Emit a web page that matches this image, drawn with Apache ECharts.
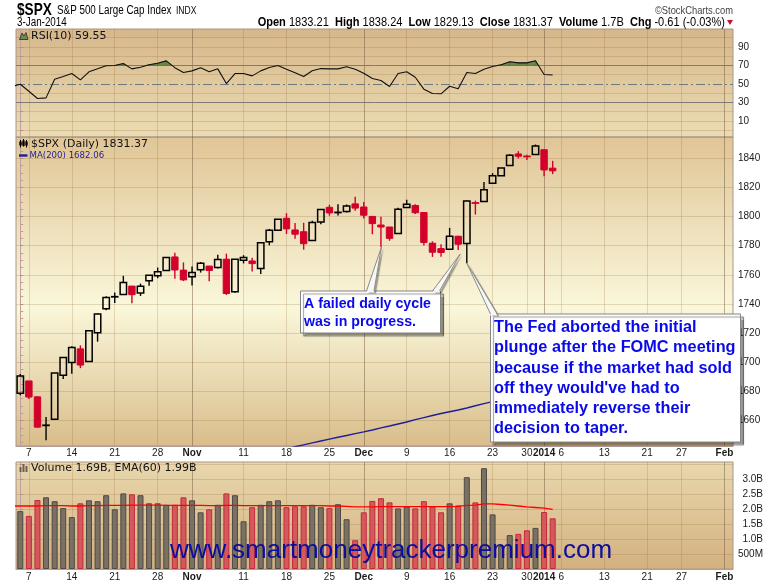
<!DOCTYPE html>
<html><head><meta charset="utf-8">
<script src="https://cdn.jsdelivr.net/npm/echarts@6/dist/echarts.min.js"></script>
<style>html,body{margin:0;padding:0;background:#fff}#c{width:780px;height:586px}</style>
</head><body><div id="c"></div>
<script>
// ---------- data ----------
const dates = ['2013-10-04','2013-10-07','2013-10-08','2013-10-09','2013-10-10','2013-10-11','2013-10-14','2013-10-15','2013-10-16','2013-10-17','2013-10-18','2013-10-21','2013-10-22','2013-10-23','2013-10-24','2013-10-25','2013-10-28','2013-10-29','2013-10-30','2013-10-31','2013-11-01','2013-11-04','2013-11-05','2013-11-06','2013-11-07','2013-11-08','2013-11-11','2013-11-12','2013-11-13','2013-11-14','2013-11-15','2013-11-18','2013-11-19','2013-11-20','2013-11-21','2013-11-22','2013-11-25','2013-11-26','2013-11-27','2013-11-29','2013-12-02','2013-12-03','2013-12-04','2013-12-05','2013-12-06','2013-12-09','2013-12-10','2013-12-11','2013-12-12','2013-12-13','2013-12-16','2013-12-17','2013-12-18','2013-12-19','2013-12-20','2013-12-23','2013-12-24','2013-12-26','2013-12-27','2013-12-30','2013-12-31','2014-01-02','2014-01-03'];
const opens = [1678.79,1687.15,1676.22,1656.99,1660.88,1691.09,1699.86,1709.17,1700.49,1720.17,1736.72,1745.20,1746.48,1752.27,1747.48,1756.01,1759.42,1762.93,1772.27,1763.24,1758.70,1763.40,1766.01,1765.00,1770.74,1748.37,1769.96,1769.51,1764.37,1782.75,1790.66,1798.82,1790.79,1789.59,1783.52,1796.19,1806.33,1802.87,1803.48,1808.69,1806.55,1800.10,1794.17,1792.82,1788.36,1806.21,1807.60,1802.76,1781.71,1777.98,1777.48,1786.47,1781.46,1809.00,1810.39,1822.92,1828.02,1834.96,1842.97,1841.47,1842.61,1845.86,1833.21];
const highs = [1691.94,1687.15,1676.79,1662.47,1692.56,1703.44,1711.03,1711.57,1721.76,1733.45,1745.31,1747.79,1759.33,1752.27,1753.94,1759.82,1764.99,1772.09,1775.22,1768.53,1765.67,1768.78,1766.01,1773.74,1774.54,1770.78,1773.44,1771.78,1782.00,1791.53,1798.22,1802.33,1795.51,1795.73,1797.16,1804.84,1808.10,1808.42,1808.27,1813.55,1810.02,1800.10,1799.80,1792.82,1806.04,1811.52,1808.52,1802.97,1782.99,1780.92,1792.22,1786.77,1811.08,1810.88,1823.75,1829.75,1833.32,1842.84,1844.89,1842.47,1849.44,1845.86,1838.24];
const lows = [1677.33,1674.70,1655.03,1646.47,1660.88,1688.52,1692.13,1695.93,1700.49,1714.12,1735.74,1740.67,1746.48,1740.50,1745.50,1752.45,1757.67,1762.93,1757.24,1755.72,1752.70,1761.56,1755.63,1764.40,1746.20,1747.63,1767.85,1762.29,1760.64,1780.22,1790.66,1788.00,1784.72,1777.23,1783.52,1794.70,1800.58,1800.77,1802.77,1803.98,1798.60,1787.85,1779.09,1783.38,1788.36,1806.21,1801.75,1780.09,1772.28,1772.45,1777.48,1777.05,1767.99,1801.35,1810.25,1822.92,1828.02,1834.96,1839.81,1838.77,1842.41,1827.74,1829.13];
const closes = [1690.50,1676.12,1655.45,1656.40,1692.56,1703.20,1710.14,1698.06,1721.54,1733.15,1744.50,1744.66,1754.67,1746.38,1752.07,1759.77,1762.11,1771.95,1763.31,1756.54,1761.64,1767.93,1762.97,1770.49,1747.15,1770.61,1771.89,1767.69,1782.00,1790.62,1798.18,1791.53,1787.87,1781.37,1795.85,1804.76,1802.48,1802.75,1807.23,1805.81,1800.90,1795.15,1792.81,1785.03,1805.09,1808.37,1802.62,1782.22,1775.50,1775.32,1786.54,1781.00,1810.65,1809.60,1818.32,1827.99,1833.32,1842.02,1841.40,1841.07,1848.36,1831.98,1831.37];
const volumes = [1.93,1.77,2.30,2.39,2.26,2.03,1.73,2.19,2.29,2.26,2.46,1.99,2.52,2.49,2.46,2.19,2.19,2.14,2.14,2.39,2.29,1.89,1.99,2.14,2.52,2.46,1.59,2.06,2.14,2.26,2.29,2.06,2.09,2.09,2.14,2.06,2.03,2.16,1.66,0.96,1.89,2.27,2.36,2.22,2.02,2.08,2.02,2.26,2.08,1.89,2.19,2.12,3.06,2.22,3.36,1.82,0.77,1.13,1.17,1.29,1.37,1.90,1.69];
const volEma = [2.10,2.10,2.10,2.11,2.11,2.11,2.10,2.10,2.11,2.11,2.12,2.12,2.12,2.13,2.13,2.13,2.13,2.12,2.12,2.12,2.12,2.12,2.11,2.11,2.12,2.12,2.11,2.11,2.11,2.11,2.11,2.11,2.11,2.11,2.11,2.11,2.10,2.10,2.09,2.07,2.07,2.07,2.08,2.08,2.08,2.08,2.08,2.08,2.08,2.08,2.08,2.09,2.12,2.13,2.17,2.17,2.15,2.13,2.10,2.07,2.05,2.03,1.99];
const volEmaPrev = 2.10;
const rsi = [49.6,42.0,34.1,34.8,55.0,57.9,61.1,54.3,63.0,66.2,69.6,69.8,71.9,66.2,68.0,70.6,72.3,74.8,67.5,62.2,64.0,67.3,63.0,66.2,50.3,61.1,61.1,58.6,64.0,67.6,69.9,65.8,61.9,57.9,64.1,66.5,66.2,66.2,68.4,65.8,61.5,55.7,53.6,47.1,61.1,63.0,57.1,44.2,39.5,39.2,47.4,44.6,62.2,61.1,65.8,68.7,70.6,73.8,72.7,72.7,74.9,60.1,59.55];
const rsiPrev = 47.2;
const ma200 = [null,null,null,null,null,null,null,null,null,null,null,null,null,null,null,null,null,null,null,null,null,null,null,null,null,null,null,null,null,null,1639.2,1640.5,1642.0,1643.3,1644.6,1645.9,1647.2,1648.5,1649.7,1651.0,1652.2,1653.5,1654.9,1656.2,1657.6,1659.0,1660.6,1662.0,1663.4,1664.8,1666.0,1667.2,1668.6,1670.1,1671.6,1673.0,1674.3,1675.6,1676.9,1678.2,1679.5,1680.8,1682.06];
const xTickIdx = [1,6,11,16,20,26,31,36,40,45,50,55,59,61,63,68,73,77,82];
const xTickLabels = ['7','14','21','28','Nov','11','18','25','Dec','9','16','23','30','2014','6','13','21','27','Feb'];
const monthTickIdx = [20,40,61,82];
const priceTicks = [1660,1680,1700,1720,1740,1760,1780,1800,1820,1840];
const rsiTicks = [10,30,50,70,90];
const rsiGrid = [0,10,20,40,60,80,90,100];
const volTicks = [0.5,1.0,1.5,2.0,2.5,3.0];
const volTickLabels = ['500M','1.0B','1.5B','2.0B','2.5B','3.0B'];
const volGrid = [0.5,1.0,1.5,2.0,2.5,3.0,3.5];

// ---------- styling ----------
const RED = '#d3002b';
const XMIN = -0.5, XMAX = 83;
const SANS = "'Liberation Sans', Arial, sans-serif";
const DJ = "'DejaVu Sans', Verdana, sans-serif";
const lightGrid = 'rgba(140,100,50,0.22)';
const monthGrid = 'rgba(110,80,55,0.45)';
const isDown = closes.map((c,i)=> i>0 && c < closes[i-1] ? 1 : 0);

const chart = echarts.init(document.getElementById('c'), null, {renderer:'canvas'});

function xFmt(v){
  const k = xTickIdx.indexOf(Math.round(v));
  if (k < 0) return '';
  const t = xTickLabels[k];
  return monthTickIdx.indexOf(Math.round(v)) >= 0 ? '{b|' + t + '}' : t;
}
function vLines(){
  return xTickIdx.map(v => ({xAxis: v, lineStyle:{color: monthTickIdx.indexOf(v)>=0 ? monthGrid : lightGrid, width:1, type:'solid'}}));
}
function hLines(vals, color, type){
  return vals.map(v => ({yAxis: v, lineStyle:{color: color, width:1, type: type || 'solid'}}));
}
function markLines(data){
  return {silent:true, symbol:['none','none'], label:{show:false}, animation:false, z:1, emphasis:{disabled:true}, data:data};
}
function grad(stops){ return new echarts.graphic.LinearGradient(0,0,0,1, stops.map(s=>({offset:s[0], color:s[1]}))); }
function xAxisOf(gi, show, margin){
  return {
    type:'value', gridIndex:gi, min:XMIN, max:XMAX, position:'bottom',
    axisLine:{show:true, onZero:false, lineStyle:{color:'#b59c98'}},
    axisTick:{show:false},
    axisLabel:{show:show, customValues:xTickIdx, margin:margin, fontSize:10, color:'#1a1a1a', fontFamily:SANS, formatter:xFmt,
      rich:{b:{fontWeight:'bold', fontSize:10, fontFamily:SANS, color:'#1a1a1a'}}},
    splitLine:{show:false}
  };
}
const minorPrice = []; for (let v=1645; v<=1850; v+=5) minorPrice.push(v);
const rsiMinor = [0,10,20,30,40,50,60,70,80,90,100];
const plain = v => String(v);

const candleData = dates.map((d,i)=>[i, opens[i], closes[i], lows[i], highs[i], isDown[i]]);
const rsiSeg = rsi.slice(0,-1).map((v,i)=>[i, v, rsi[i+1]]);

const option = {
  animation:false,
  backgroundColor:'#ffffff',
  grid:[
    {left:16, top:29, width:717, height:108, show:true, borderColor:'#a8968a', borderWidth:1, outerBoundsMode:'none',
      backgroundColor: grad([[0,'#d6b78a'],[1,'#ecdcb3']])},
    {left:16, top:137, width:717, height:309, show:true, borderColor:'#a8968a', borderWidth:1, outerBoundsMode:'none',
      backgroundColor: grad([[0,'#e0c596'],[0.55,'#faf7da'],[1,'#d9bd8b']])},
    {left:16, top:462, width:717, height:107, show:true, borderColor:'#a8968a', borderWidth:1, outerBoundsMode:'none',
      backgroundColor: grad([[0,'#e9d7ad'],[1,'#d3b180']])}
  ],
  xAxis:[ xAxisOf(0,false,2), xAxisOf(1,true,2), xAxisOf(2,true,3) ],
  yAxis:[
    {type:'value', gridIndex:0, position:'right', min:-7.5, max:109.3,
      axisLine:{show:true, lineStyle:{color:'#bf9f9f'}},
      axisTick:{show:true, customValues:rsiMinor, length:3, lineStyle:{color:'#c79a9a'}},
      axisLabel:{customValues:rsiTicks, margin:5, fontSize:10, color:'#1a1a1a', fontFamily:SANS, formatter:plain},
      splitLine:{show:false}},
    {type:'value', gridIndex:1, position:'right', min:1642.5, max:1854.6,
      axisLine:{show:true, lineStyle:{color:'#bf9f9f'}},
      axisTick:{show:true, customValues:minorPrice, length:3, lineStyle:{color:'#c79a9a'}},
      axisLabel:{customValues:priceTicks, margin:5, fontSize:10, color:'#1a1a1a', fontFamily:SANS, formatter:plain},
      splitLine:{show:false}},
    {type:'value', gridIndex:2, position:'right', min:0, max:3.567,
      axisLine:{show:true, lineStyle:{color:'#bf9f9f'}},
      axisTick:{show:true, customValues:volGrid, length:3, lineStyle:{color:'#c79a9a'}},
      axisLabel:{customValues:volTicks, margin:30, align:'right', fontSize:10, color:'#1a1a1a', fontFamily:SANS,
        formatter: v => { const k = volTicks.indexOf(v); return k>=0 ? volTickLabels[k] : ''; }},
      splitLine:{show:false}}
  ],
  series:[
    // RSI overbought fill
    {type:'custom', xAxisIndex:0, yAxisIndex:0, z:2, clip:true, silent:true,
      data: rsiSeg, encode:{x:0, y:[1,2]},
      renderItem:function(params, api){
        const i = api.value(0), a = api.value(1), b = api.value(2), L = 70;
        if (a <= L && b <= L) return null;
        let pts;
        if (a > L && b > L) pts = [[i,L],[i,a],[i+1,b],[i+1,L]];
        else { const t = (L-a)/(b-a), xc = i + t;
          pts = a > L ? [[i,L],[i,a],[xc,L]] : [[xc,L],[i+1,b],[i+1,L]]; }
        return {type:'polygon', shape:{points: pts.map(p=>api.coord(p))}, style:{fill:'#6c8b4c', stroke:'#4d6636', lineWidth:0.5}};
      }},
    // RSI line + panel gridlines
    {type:'line', xAxisIndex:0, yAxisIndex:0, z:3, symbol:'none', silent:true,
      data: [[-1, rsiPrev]].concat(rsi.map((v,i)=>[i,v])),
      lineStyle:{color:'#111', width:1.1},
      markLine: markLines(
        vLines()
        .concat(hLines(rsiGrid, lightGrid))
        .concat(hLines([70,30], '#7d7b78'))
        .concat(hLines([50], '#6f7880', [9,3,2,3])))},
    // MA(200) + main gridlines
    {type:'line', xAxisIndex:1, yAxisIndex:1, z:2, symbol:'none', silent:true, connectNulls:false,
      data: ma200.map((v,i)=>[i,v]),
      lineStyle:{color:'#1e1e96', width:1.4},
      markLine: markLines(vLines().concat(hLines(priceTicks, lightGrid)))},
    // candles
    {type:'custom', xAxisIndex:1, yAxisIndex:1, z:4, clip:true, silent:true,
      data: candleData, encode:{x:0, y:[1,2,3,4]},
      renderItem:function(params, api){
        const i = api.value(0), o = api.value(1), c = api.value(2), l = api.value(3), h = api.value(4), dn = api.value(5);
        const col = dn ? RED : '#000';
        const pO = api.coord([i,o]), pC = api.coord([i,c]), pL = api.coord([i,l]), pH = api.coord([i,h]);
        const cx = pO[0], hw = 3.2;
        const yT = Math.min(pO[1],pC[1]), yB = Math.max(pO[1],pC[1]);
        const ch = [];
        if (yB - yT < 1.3) {
          const ym = (yT+yB)/2;
          ch.push({type:'line', shape:{x1:cx,y1:pH[1],x2:cx,y2:pL[1]}, style:{stroke:col, lineWidth:1.4}});
          ch.push({type:'line', shape:{x1:cx-hw-0.6,y1:ym,x2:cx+hw+0.6,y2:ym}, style:{stroke:col, lineWidth:1.8}});
        } else if (c >= o) {
          ch.push({type:'line', shape:{x1:cx,y1:pH[1],x2:cx,y2:yT}, style:{stroke:col, lineWidth:1.4}});
          ch.push({type:'line', shape:{x1:cx,y1:yB,x2:cx,y2:pL[1]}, style:{stroke:col, lineWidth:1.4}});
          ch.push({type:'rect', shape:{x:cx-hw, y:yT, width:2*hw, height:yB-yT}, style:{fill:'none', stroke:col, lineWidth:1.5}});
        } else {
          ch.push({type:'line', shape:{x1:cx,y1:pH[1],x2:cx,y2:pL[1]}, style:{stroke:col, lineWidth:1.4}});
          ch.push({type:'rect', shape:{x:cx-hw, y:yT, width:2*hw, height:yB-yT}, style:{fill:col, stroke:col, lineWidth:1}});
        }
        return {type:'group', children:ch};
      }},
    // volume bars
    {type:'bar', xAxisIndex:2, yAxisIndex:2, z:2, barWidth:6, silent:true,
      data: volumes.map((v,i)=>({value:[i,v], itemStyle:{color: isDown[i] ? '#d35a5c' : '#7a7064', borderColor: isDown[i] ? '#c5283c' : '#4e4a44', borderWidth:1}}))},
    // volume EMA + volume gridlines
    {type:'line', xAxisIndex:2, yAxisIndex:2, z:3, symbol:'none', silent:true,
      data: [[-1, volEmaPrev]].concat(volEma.map((v,i)=>[i,v])),
      lineStyle:{color:'#ff0000', width:1.3},
      markLine: markLines(vLines().concat(hLines(volGrid, lightGrid)))}
  ]
};
chart.setOption(option);

// ---------- annotations / header (layout only) ----------
const G = [];
function txt(x, y, text, font, fill, align, extra, sx){
  G.push({type:'text', x:x, y:y, z:60, silent:true, scaleX: sx || 1,
    style:Object.assign({text:text, font:font, fill:fill, align:align||'left', verticalAlign:'middle'}, extra||{})});
}
// header (condensed via horizontal scaling)
txt(17, 10.5, '$SPX', 'bold 17px ' + SANS, '#000', 'left', null, 0.8);
txt(57, 11, 'S&P 500 Large Cap Index', '12px ' + SANS, '#000', 'left', null, 0.82);
txt(176, 11, 'INDX', '10px ' + SANS, '#000', 'left', null, 0.85);
txt(733, 11, '©StockCharts.com', '11px ' + SANS, '#444', 'right', null, 0.85);
txt(17, 22.5, '3-Jan-2014', '12px ' + SANS, '#000', 'left', null, 0.82);
txt(725, 22.5, '{b|Open} 1833.21  {b|High} 1838.24  {b|Low} 1829.13  {b|Close} 1831.37  {b|Volume} 1.7B  {b|Chg} -0.61 (-0.03%)',
  '12px ' + SANS, '#000', 'right', {rich:{b:{fontWeight:'bold', fontSize:12, fontFamily:SANS, fill:'#000'}}}, 0.92);
G.push({type:'polygon', z:60, silent:true, shape:{points:[[727,20],[733,20],[730,25]]}, style:{fill:'#c8102e'}});

// panel legends
G.push({type:'polygon', z:60, silent:true, shape:{points:[[19.5,39.5],[22,33],[24,36],[26,32.5],[28,39.5]]}, style:{fill:'#6c8b4c', stroke:'#2a2a2a', lineWidth:0.8}});
txt(31, 36, 'RSI(10) 59.55', '11px ' + DJ, '#111');
[[20.5,141,4,141.5,145.5],[23.5,140,3.5,140.5,146],[26.5,141,3,141.5,145.5]].forEach(function(c){
  G.push({type:'line', z:60, silent:true, shape:{x1:c[0],y1:c[1]-1,x2:c[0],y2:c[1]+6.5}, style:{stroke:'#000', lineWidth:1}});
  G.push({type:'rect', z:60, silent:true, shape:{x:c[0]-1.2,y:c[3],width:2.4,height:c[4]-c[3]}, style:{fill:'#000'}});
});
txt(31, 144, '$SPX (Daily) 1831.37', '11px ' + DJ, '#111');
G.push({type:'line', z:60, silent:true, shape:{x1:19,y1:155.5,x2:27.5,y2:155.5}, style:{stroke:'#1e1e96', lineWidth:2.4}});
txt(29.5, 155.5, 'MA(200) 1682.06', '8.6px ' + DJ, '#1e1e96');
[[19.5,467,5],[22.5,464,8],[25.5,466,6]].forEach(function(b){
  G.push({type:'rect', z:60, silent:true, shape:{x:b[0],y:b[1],width:2,height:b[2]}, style:{fill:'#6a6258'}});
});
txt(31, 468.5, 'Volume 1.69B, EMA(60) 1.99B', '11px ' + DJ, '#111');

// watermark
txt(170, 551, 'www.smartmoneytrackerpremium.com', '26px ' + SANS, '#0c0c9e');

// callouts
const BLUE = '#0a0ae8';
function box(x, y, w, h){
  G.push({type:'rect', z:70, silent:true, shape:{x:x, y:y, width:w, height:h},
    style:{fill:'#ffffff', stroke:'#858585', lineWidth:1, shadowColor:'rgba(0,0,0,0.4)', shadowOffsetX:3, shadowOffsetY:3, shadowBlur:1}});
}
function pointer(bx1, bx2, by, tip){
  G.push({type:'polygon', z:71, silent:true, shape:{points:[[bx1,by+1.5],tip,[bx2,by+1.5]]},
    style:{fill:'#f7f7f7', shadowColor:'rgba(0,0,0,0.35)', shadowOffsetX:2, shadowOffsetY:1, shadowBlur:1}});
  G.push({type:'polyline', z:72, silent:true, shape:{points:[[bx1,by],tip,[bx2,by]]}, style:{stroke:'#8a8a8a', lineWidth:1, fill:null}});
}
const toPx = (i, v) => chart.convertToPixel({xAxisIndex:1, yAxisIndex:1}, [i, v]);
box(300.5, 291, 140, 42);
box(490.5, 314, 250, 128);
const t1 = toPx(42, lows[42]);
const t2 = toPx(51, lows[51]);
const t3 = toPx(52, lows[52]);
pointer(366.5, 374, 291, [t1[0]+0.5, t1[1]]);
pointer(432.5, 439.5, 291, [t2[0]+2, t2[1]+4]);
pointer(490.5, 497.5, 314, [t3[0], t3[1]]);
const f1 = 'bold 14.2px ' + SANS, f2 = 'bold 16.3px ' + SANS;
G.push({type:'text', z:75, silent:true, x:304, y:304, style:{text:'A failed daily cycle', font:f1, fill:BLUE, verticalAlign:'middle'}});
G.push({type:'text', z:75, silent:true, x:304, y:322.5, style:{text:'was in progress.', font:f1, fill:BLUE, verticalAlign:'middle'}});
['The Fed aborted the initial','plunge after the FOMC meeting','because if the market had sold',"off they would've had to",'immediately reverse their','decision to taper.']
  .forEach(function(s, k){
    G.push({type:'text', z:75, silent:true, x:494, y:327.5 + k*20.3, style:{text:s, font:f2, fill:BLUE, verticalAlign:'middle'}});
  });

chart.setOption({graphic:{elements:G}});
</script>
</body></html>
